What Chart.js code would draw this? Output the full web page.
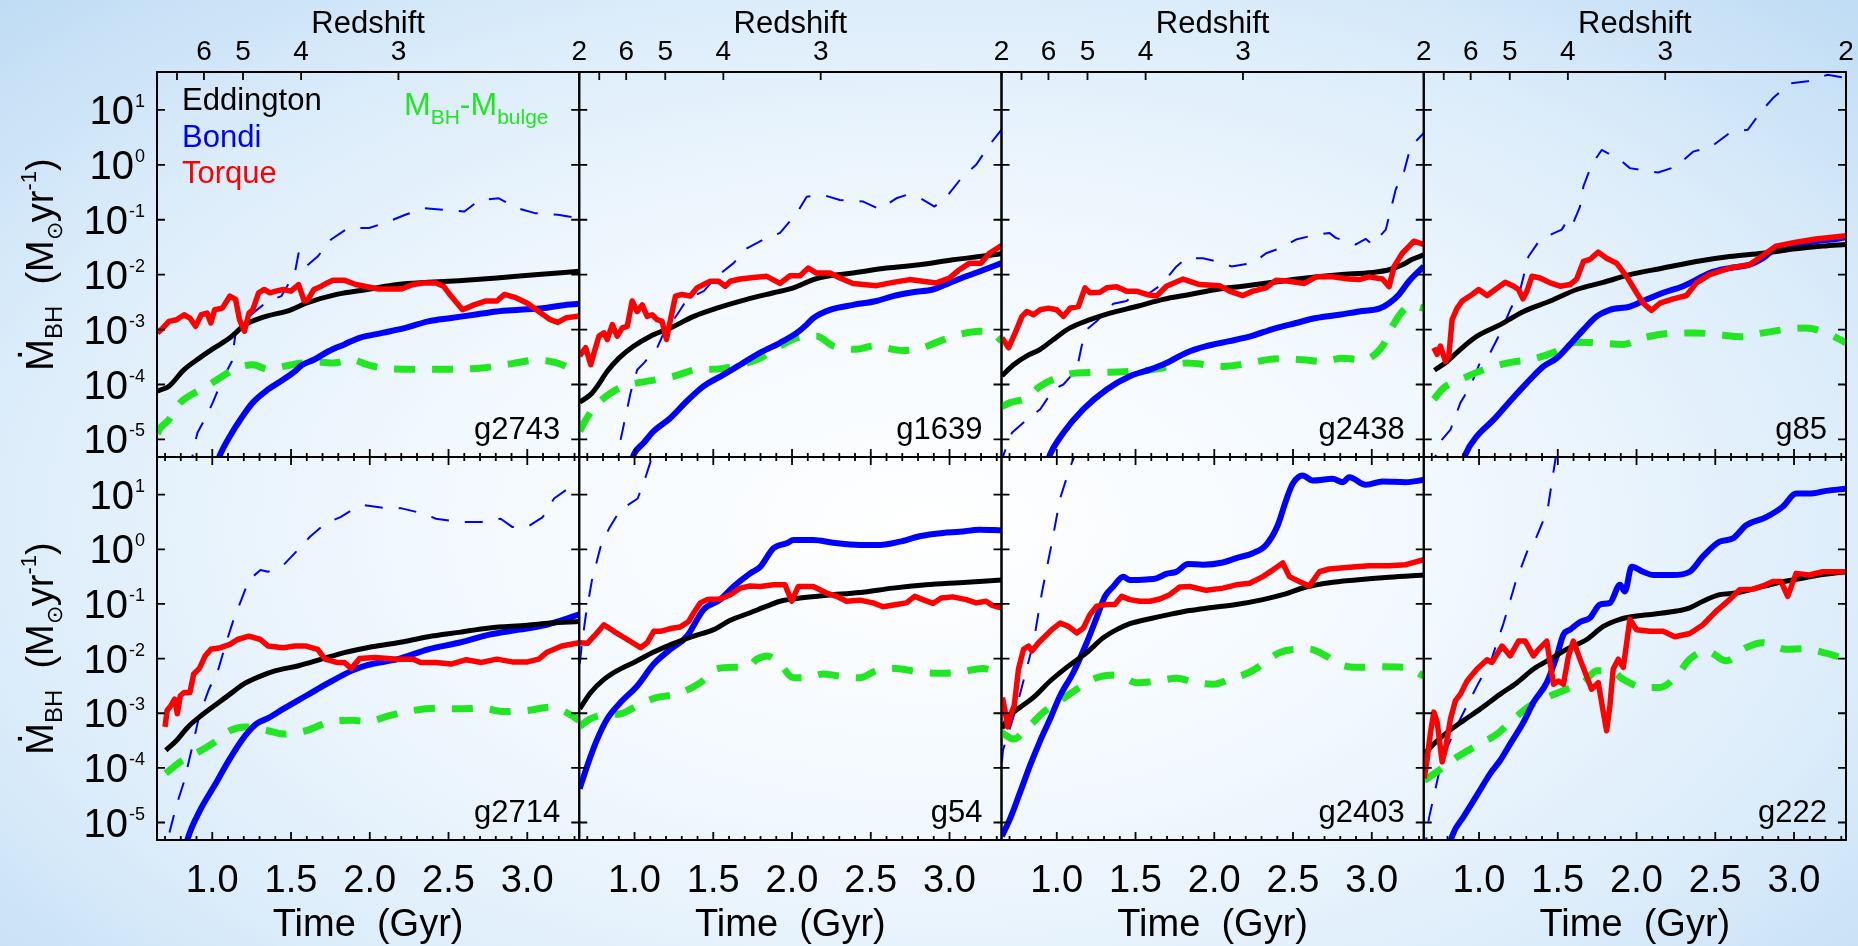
<!DOCTYPE html>
<html>
<head>
<meta charset="utf-8">
<title>BH accretion rates</title>
<script src="https://cdn.jsdelivr.net/npm/chart.js@4.4.1/dist/chart.umd.min.js"></script>
<style>
  html, body { margin: 0; padding: 0; width: 1858px; height: 946px; overflow: hidden; }
  body { background: radial-gradient(ellipse 72% 80% at 50% 56%, #ffffff 0%, #f1f8fe 40%, #dbecfa 72%, #bddbf4 100%); }
  canvas { position: absolute; left: 0; top: 0; }
</style>
</head>
<body>
<script>
// values are [time in Gyr, log10 of accretion rate in Msun/yr]

// ---- g2743 ----
const g2743Eddington = [[0.652,-4.12],[0.725,-4.03],[0.821,-3.73],[0.918,-3.52],[1.015,-3.33],[1.112,-3.15],[1.209,-2.91],[1.306,-2.79],[1.499,-2.64],[1.596,-2.52],[1.79,-2.36],[1.984,-2.27],[2.177,-2.18],[2.371,-2.14],[2.565,-2.11],[2.807,-2.06],[3.049,-2.0],[3.33,-1.94]];
const g2743Bondi = [[1.02,-5.5],[1.051,-5.27],[1.112,-4.94],[1.185,-4.61],[1.257,-4.33],[1.354,-4.09],[1.451,-3.91],[1.524,-3.76],[1.572,-3.64],[1.645,-3.55],[1.741,-3.39],[1.838,-3.27],[1.935,-3.15],[2.08,-3.06],[2.226,-2.97],[2.371,-2.85],[2.516,-2.79],[2.662,-2.73],[2.807,-2.67],[2.952,-2.64],[3.098,-2.61],[3.219,-2.56],[3.33,-2.53]];
const g2743BondiThin = [[0.86,-5.6],[0.882,-5.15],[0.906,-4.88],[0.967,-4.55],[1.003,-4.33],[1.064,-3.91],[1.124,-3.58],[1.148,-3.06],[1.233,-2.76],[1.354,-2.48],[1.439,-2.39],[1.524,-1.97],[1.548,-1.61],[1.596,-1.85],[1.669,-1.67],[1.754,-1.36],[1.863,-1.15],[1.996,-1.15],[2.105,-1.05],[2.226,-0.91],[2.347,-0.79],[2.48,-0.82],[2.601,-0.85],[2.698,-0.64],[2.819,-0.61],[2.94,-0.79],[3.049,-0.88],[3.194,-0.91],[3.33,-0.97]];
const g2743Torque = [[0.652,-3.06],[0.676,-3.0],[0.725,-2.85],[0.773,-2.82],[0.821,-2.73],[0.858,-2.79],[0.894,-2.94],[0.93,-2.73],[0.967,-2.7],[0.991,-2.88],[1.015,-2.64],[1.064,-2.61],[1.112,-2.39],[1.148,-2.45],[1.173,-2.82],[1.204,-3.03],[1.233,-2.7],[1.257,-2.64],[1.294,-2.33],[1.33,-2.27],[1.366,-2.33],[1.403,-2.3],[1.451,-2.27],[1.499,-2.3],[1.548,-2.18],[1.584,-2.48],[1.608,-2.45],[1.645,-2.27],[1.693,-2.21],[1.729,-2.15],[1.766,-2.1],[1.838,-2.1],[1.911,-2.18],[1.984,-2.22],[2.056,-2.26],[2.129,-2.26],[2.202,-2.26],[2.274,-2.18],[2.347,-2.15],[2.42,-2.15],[2.468,-2.21],[2.516,-2.39],[2.589,-2.64],[2.662,-2.55],[2.734,-2.48],[2.807,-2.48],[2.855,-2.36],[2.928,-2.42],[3.001,-2.52],[3.073,-2.67],[3.146,-2.82],[3.194,-2.87],[3.243,-2.79],[3.33,-2.75]];
const g2743Bulge = [[0.652,-4.9],[0.664,-4.82],[0.725,-4.64],[0.797,-4.33],[0.87,-4.18],[0.967,-4.03],[1.064,-3.85],[1.16,-3.7],[1.257,-3.64],[1.354,-3.72],[1.451,-3.67],[1.572,-3.61],[1.669,-3.59],[1.766,-3.61],[1.887,-3.55],[1.984,-3.64],[2.08,-3.7],[2.226,-3.72],[2.371,-3.72],[2.565,-3.72],[2.71,-3.7],[2.904,-3.62],[3.049,-3.56],[3.146,-3.58],[3.243,-3.67],[3.33,-3.85]];

// ---- g1639 ----
const g1639Eddington = [[0.652,-4.32],[0.722,-4.18],[0.764,-4.03],[0.827,-3.76],[0.901,-3.52],[0.996,-3.3],[1.101,-3.12],[1.228,-2.97],[1.376,-2.76],[1.523,-2.61],[1.713,-2.45],[1.882,-2.33],[2.009,-2.24],[2.135,-2.09],[2.22,-2.03],[2.388,-1.97],[2.599,-1.88],[2.81,-1.82],[3.021,-1.73],[3.19,-1.67],[3.33,-1.62]];
const g1639Bondi = [[0.97,-5.5],[0.996,-5.27],[1.059,-5.06],[1.122,-4.85],[1.228,-4.61],[1.333,-4.3],[1.439,-4.03],[1.566,-3.82],[1.671,-3.64],[1.798,-3.42],[1.924,-3.24],[2.03,-3.06],[2.093,-2.91],[2.135,-2.79],[2.241,-2.64],[2.388,-2.55],[2.536,-2.48],[2.641,-2.39],[2.768,-2.32],[2.895,-2.27],[3.0,-2.15],[3.106,-2.03],[3.211,-1.92],[3.33,-1.79]];
const g1639BondiThin = [[0.85,-5.6],[0.89,-5.3],[0.932,-4.73],[0.975,-4.15],[1.017,-3.73],[1.059,-3.61],[1.144,-3.33],[1.186,-3.06],[1.27,-2.73],[1.333,-2.45],[1.439,-2.3],[1.523,-2.03],[1.629,-1.79],[1.713,-1.52],[1.819,-1.36],[1.924,-1.24],[2.03,-0.88],[2.093,-0.58],[2.198,-0.55],[2.304,-0.64],[2.452,-0.67],[2.557,-0.81],[2.662,-0.61],[2.726,-0.55],[2.821,-0.62],[2.905,-0.76],[2.99,-0.55],[3.084,-0.21],[3.169,0.0],[3.253,0.36],[3.33,0.64]];
const g1639Torque = [[0.652,-3.48],[0.69,-3.33],[0.722,-3.64],[0.743,-3.42],[0.774,-3.12],[0.806,-3.06],[0.827,-3.18],[0.859,-2.91],[0.89,-3.12],[0.922,-2.97],[0.954,-2.94],[0.985,-2.48],[1.017,-2.67],[1.049,-2.55],[1.08,-2.76],[1.112,-2.73],[1.144,-2.82],[1.175,-2.85],[1.203,-3.18],[1.228,-2.82],[1.26,-2.39],[1.302,-2.36],[1.355,-2.39],[1.397,-2.24],[1.439,-2.18],[1.481,-2.12],[1.534,-2.12],[1.576,-2.21],[1.608,-2.12],[1.671,-2.08],[1.755,-2.05],[1.84,-2.03],[1.924,-2.16],[1.987,-2.02],[2.051,-2.02],[2.103,-1.88],[2.156,-1.97],[2.241,-1.97],[2.304,-2.06],[2.388,-2.16],[2.536,-2.2],[2.641,-2.14],[2.747,-2.09],[2.831,-2.12],[2.916,-2.15],[3.0,-2.06],[3.063,-1.91],[3.127,-1.79],[3.2,-1.79],[3.253,-1.61],[3.33,-1.47]];
const g1639Bulge = [[0.652,-4.85],[0.679,-4.7],[0.743,-4.42],[0.869,-4.12],[0.975,-4.0],[1.144,-3.91],[1.249,-3.85],[1.397,-3.73],[1.523,-3.72],[1.671,-3.64],[1.798,-3.52],[1.924,-3.3],[2.03,-3.15],[2.156,-3.12],[2.262,-3.3],[2.409,-3.36],[2.515,-3.3],[2.705,-3.38],[2.81,-3.35],[2.937,-3.21],[3.063,-3.09],[3.19,-3.03],[3.274,-3.06],[3.33,-3.21]];

// ---- g2438 ----
const g2438Eddington = [[0.652,-3.84],[0.726,-3.64],[0.81,-3.48],[0.895,-3.36],[0.979,-3.18],[1.084,-2.97],[1.211,-2.82],[1.338,-2.7],[1.506,-2.58],[1.675,-2.45],[1.844,-2.36],[2.013,-2.27],[2.182,-2.21],[2.371,-2.14],[2.582,-2.06],[2.793,-2.0],[3.004,-1.96],[3.11,-1.91],[3.194,-1.82],[3.258,-1.72],[3.33,-1.64]];
const g2438Bondi = [[0.93,-5.5],[0.958,-5.27],[1.042,-4.88],[1.169,-4.45],[1.317,-4.09],[1.464,-3.85],[1.591,-3.73],[1.696,-3.61],[1.823,-3.42],[1.949,-3.3],[2.097,-3.21],[2.245,-3.11],[2.371,-2.99],[2.519,-2.88],[2.646,-2.79],[2.793,-2.73],[2.92,-2.67],[3.046,-2.62],[3.11,-2.52],[3.173,-2.36],[3.236,-2.12],[3.33,-1.85]];
const g2438BondiThin = [[0.652,-5.5],[0.663,-5.27],[0.715,-4.88],[0.81,-4.64],[0.895,-4.45],[0.979,-4.09],[1.042,-4.0],[1.127,-3.73],[1.158,-3.3],[1.19,-3.0],[1.253,-2.85],[1.359,-2.53],[1.443,-2.48],[1.506,-2.33],[1.591,-2.33],[1.665,-2.18],[1.76,-1.85],[1.823,-1.7],[1.928,-1.7],[2.055,-1.79],[2.108,-1.85],[2.245,-1.79],[2.329,-1.61],[2.435,-1.5],[2.519,-1.36],[2.646,-1.27],[2.73,-1.24],[2.772,-1.33],[2.899,-1.45],[2.962,-1.35],[3.004,-1.45],[3.089,-1.18],[3.152,-0.45],[3.205,-0.12],[3.247,0.33],[3.33,0.58]];
const g2438Torque = [[0.652,-3.15],[0.694,-3.33],[0.736,-3.06],[0.779,-2.76],[0.81,-2.67],[0.852,-2.73],[0.895,-2.64],[0.947,-2.61],[0.999,-2.64],[1.042,-2.76],[1.084,-2.61],[1.137,-2.58],[1.179,-2.24],[1.211,-2.33],[1.274,-2.32],[1.317,-2.24],[1.38,-2.22],[1.443,-2.3],[1.506,-2.3],[1.57,-2.36],[1.633,-2.39],[1.696,-2.21],[1.802,-2.08],[1.907,-2.18],[2.034,-2.2],[2.097,-2.3],[2.182,-2.38],[2.245,-2.3],[2.329,-2.24],[2.393,-2.1],[2.477,-2.12],[2.572,-2.16],[2.646,-2.04],[2.751,-2.04],[2.857,-2.08],[2.92,-2.09],[2.983,-2.04],[3.068,-2.08],[3.11,-2.22],[3.142,-1.85],[3.194,-1.61],[3.268,-1.39],[3.33,-1.45]];
const g2438Bulge = [[0.652,-4.4],[0.705,-4.33],[0.81,-4.24],[0.895,-4.03],[0.999,-3.88],[1.127,-3.79],[1.295,-3.78],[1.485,-3.76],[1.633,-3.72],[1.823,-3.61],[2.055,-3.67],[2.224,-3.61],[2.393,-3.53],[2.561,-3.55],[2.688,-3.58],[2.814,-3.52],[2.941,-3.55],[3.068,-3.3],[3.131,-2.94],[3.194,-2.67],[3.258,-2.56],[3.33,-2.61]];

// ---- g85 ----
const g85Eddington = [[0.717,-3.74],[0.798,-3.58],[0.882,-3.36],[0.987,-3.12],[1.135,-2.91],[1.283,-2.67],[1.452,-2.48],[1.62,-2.27],[1.789,-2.14],[1.958,-2.0],[2.169,-1.88],[2.38,-1.76],[2.591,-1.67],[2.802,-1.61],[3.013,-1.53],[3.182,-1.48],[3.33,-1.45]];
const g85Bondi = [[0.88,-5.6],[0.914,-5.27],[0.987,-4.94],[1.093,-4.64],[1.198,-4.3],[1.304,-3.97],[1.409,-3.67],[1.494,-3.52],[1.578,-3.27],[1.663,-3.0],[1.747,-2.76],[1.831,-2.64],[1.958,-2.58],[2.042,-2.48],[2.169,-2.33],[2.295,-2.21],[2.38,-2.09],[2.464,-1.97],[2.591,-1.88],[2.717,-1.82],[2.802,-1.7],[2.886,-1.52],[3.013,-1.45],[3.139,-1.39],[3.266,-1.35],[3.33,-1.32]];
const g85BondiThin = [[0.7,-5.6],[0.734,-5.18],[0.766,-5.0],[0.819,-4.82],[0.882,-4.33],[0.945,-4.03],[1.009,-3.58],[1.061,-3.48],[1.135,-3.06],[1.198,-2.64],[1.262,-2.27],[1.314,-1.67],[1.388,-1.36],[1.525,-1.18],[1.557,-1.03],[1.589,-1.12],[1.641,-0.76],[1.663,-0.39],[1.715,0.0],[1.779,0.27],[1.895,0.09],[1.958,-0.06],[2.021,-0.09],[2.137,-0.14],[2.253,-0.03],[2.359,0.24],[2.475,0.33],[2.591,0.58],[2.707,0.64],[2.791,0.97],[2.865,1.21],[2.971,1.48],[3.087,1.52],[3.213,1.64],[3.33,1.58]];
const g85Torque = [[0.713,-3.33],[0.734,-3.45],[0.755,-3.3],[0.787,-3.58],[0.808,-3.48],[0.829,-2.82],[0.861,-2.61],[0.893,-2.48],[0.924,-2.42],[0.956,-2.36],[0.998,-2.27],[1.051,-2.38],[1.103,-2.27],[1.167,-2.14],[1.22,-2.21],[1.251,-2.27],[1.279,-2.44],[1.304,-2.3],[1.336,-2.03],[1.388,-2.06],[1.452,-2.15],[1.515,-2.21],[1.578,-2.18],[1.62,-2.08],[1.663,-1.76],[1.705,-1.72],[1.757,-1.59],[1.81,-1.7],[1.873,-1.79],[1.937,-2.03],[2.0,-2.33],[2.042,-2.52],[2.095,-2.65],[2.148,-2.52],[2.232,-2.44],[2.317,-2.38],[2.38,-2.15],[2.464,-2.0],[2.591,-1.88],[2.717,-1.82],[2.802,-1.65],[2.886,-1.48],[3.013,-1.41],[3.139,-1.35],[3.33,-1.29]];
const g85Bulge = [[0.713,-4.27],[0.776,-4.06],[0.882,-3.91],[1.03,-3.73],[1.177,-3.61],[1.346,-3.53],[1.473,-3.42],[1.62,-3.23],[1.747,-3.24],[1.916,-3.27],[2.042,-3.15],[2.211,-3.07],[2.38,-3.06],[2.506,-3.09],[2.675,-3.13],[2.802,-3.06],[2.97,-2.99],[3.076,-2.97],[3.203,-3.06],[3.33,-3.24]];

// ---- g2714 ----
const g2714Eddington = [[0.705,-3.68],[0.773,-3.5],[0.846,-3.25],[0.918,-3.07],[1.015,-2.86],[1.112,-2.65],[1.209,-2.45],[1.306,-2.32],[1.403,-2.22],[1.548,-2.13],[1.693,-2.01],[1.838,-1.89],[1.984,-1.8],[2.177,-1.71],[2.371,-1.6],[2.565,-1.52],[2.759,-1.44],[3.001,-1.39],[3.146,-1.35],[3.33,-1.32]];
const g2714Bondi = [[0.82,-5.6],[0.846,-5.28],[0.918,-4.8],[1.015,-4.32],[1.112,-3.83],[1.209,-3.41],[1.282,-3.19],[1.354,-3.09],[1.451,-2.92],[1.596,-2.68],[1.741,-2.44],[1.887,-2.22],[1.984,-2.12],[2.177,-2.01],[2.371,-1.83],[2.565,-1.71],[2.759,-1.56],[2.952,-1.47],[3.122,-1.38],[3.33,-1.19]];
const g2714BondiThin = [[0.7,-5.8],[0.725,-5.22],[0.773,-4.68],[0.821,-4.25],[0.87,-3.65],[0.918,-3.04],[0.979,-2.56],[1.039,-2.19],[1.088,-1.71],[1.136,-1.28],[1.185,-0.92],[1.233,-0.56],[1.306,-0.38],[1.354,-0.41],[1.451,-0.29],[1.524,-0.07],[1.62,0.23],[1.717,0.47],[1.814,0.59],[1.887,0.72],[1.96,0.81],[2.105,0.75],[2.202,0.75],[2.347,0.65],[2.42,0.56],[2.565,0.5],[2.71,0.5],[2.831,0.56],[2.904,0.41],[3.001,0.41],[3.098,0.59],[3.17,0.93],[3.243,1.08],[3.33,1.2]];
const g2714Torque = [[0.7,-3.25],[0.713,-2.95],[0.737,-2.86],[0.761,-2.74],[0.778,-3.01],[0.797,-2.68],[0.821,-2.62],[0.858,-2.62],[0.882,-2.28],[0.918,-2.18],[0.955,-1.95],[0.991,-1.83],[1.052,-1.8],[1.112,-1.74],[1.16,-1.65],[1.233,-1.59],[1.306,-1.65],[1.354,-1.77],[1.451,-1.8],[1.524,-1.77],[1.596,-1.77],[1.669,-1.83],[1.717,-2.01],[1.79,-2.07],[1.838,-2.07],[1.882,-2.18],[1.935,-2.0],[2.032,-1.98],[2.177,-2.01],[2.274,-2.01],[2.323,-2.07],[2.42,-2.07],[2.516,-2.1],[2.613,-2.02],[2.71,-2.07],[2.807,-2.01],[2.904,-2.06],[3.001,-2.06],[3.073,-2.01],[3.122,-1.89],[3.219,-1.77],[3.33,-1.71]];
const g2714Bulge = [[0.705,-4.1],[0.797,-3.89],[0.894,-3.74],[1.015,-3.53],[1.112,-3.32],[1.209,-3.25],[1.354,-3.32],[1.451,-3.38],[1.596,-3.32],[1.741,-3.16],[1.887,-3.13],[1.984,-3.15],[2.129,-3.04],[2.274,-2.95],[2.42,-2.91],[2.565,-2.92],[2.71,-2.91],[2.855,-2.97],[3.001,-2.95],[3.146,-2.89],[3.243,-2.98],[3.33,-3.13]];

// ---- g54 ----
const g54Eddington = [[0.652,-2.92],[0.722,-2.62],[0.806,-2.38],[0.89,-2.22],[0.996,-2.07],[1.122,-1.88],[1.249,-1.72],[1.376,-1.59],[1.502,-1.47],[1.608,-1.3],[1.734,-1.16],[1.84,-1.04],[1.924,-0.95],[2.051,-0.89],[2.22,-0.84],[2.43,-0.79],[2.641,-0.71],[2.852,-0.65],[3.063,-0.61],[3.33,-0.56]];
const g54Bondi = [[0.652,-4.38],[0.701,-3.95],[0.764,-3.47],[0.827,-3.1],[0.912,-2.8],[1.017,-2.5],[1.122,-2.1],[1.228,-1.83],[1.333,-1.59],[1.439,-1.1],[1.544,-0.92],[1.629,-0.68],[1.734,-0.44],[1.798,-0.32],[1.882,0.02],[1.966,0.11],[2.009,0.17],[2.135,0.17],[2.262,0.12],[2.43,0.08],[2.557,0.08],[2.684,0.14],[2.81,0.24],[2.958,0.3],[3.063,0.32],[3.19,0.36],[3.33,0.35]];
const g54BondiThin = [[0.652,-2.1],[0.665,-1.75],[0.69,-1.22],[0.73,-0.56],[0.785,0.05],[0.838,0.38],[0.91,0.72],[1.02,0.93],[1.07,1.32],[1.11,1.68],[1.14,2.0]];
const g54Torque = [[0.652,-1.71],[0.701,-1.72],[0.743,-1.59],[0.806,-1.38],[0.869,-1.5],[0.954,-1.65],[1.038,-1.8],[1.08,-1.71],[1.122,-1.5],[1.165,-1.5],[1.228,-1.45],[1.291,-1.42],[1.344,-1.32],[1.376,-1.16],[1.418,-0.98],[1.46,-0.92],[1.544,-0.91],[1.608,-0.83],[1.671,-0.71],[1.734,-0.67],[1.798,-0.68],[1.882,-0.65],[1.956,-0.65],[1.998,-0.95],[2.04,-0.68],[2.135,-0.68],[2.22,-0.8],[2.283,-0.86],[2.346,-0.95],[2.43,-0.93],[2.515,-0.98],[2.578,-1.05],[2.663,-1.01],[2.726,-0.98],[2.779,-0.86],[2.831,-0.92],[2.895,-0.99],[2.947,-0.89],[3.021,-0.87],[3.106,-0.92],[3.169,-0.98],[3.232,-0.95],[3.274,-1.03],[3.33,-1.07]];
const g54Bulge = [[0.652,-3.24],[0.722,-3.1],[0.806,-3.03],[0.912,-3.01],[1.017,-2.86],[1.144,-2.71],[1.27,-2.65],[1.418,-2.44],[1.523,-2.19],[1.629,-2.16],[1.713,-2.16],[1.777,-2.01],[1.84,-1.95],[1.924,-2.1],[2.009,-2.35],[2.093,-2.35],[2.198,-2.28],[2.304,-2.32],[2.43,-2.35],[2.536,-2.22],[2.663,-2.18],[2.789,-2.24],[2.937,-2.27],[3.063,-2.25],[3.211,-2.18],[3.33,-2.28]];

// ---- g2403 ----
const g2403Eddington = [[0.652,-3.27],[0.705,-3.04],[0.768,-2.89],[0.852,-2.71],[0.958,-2.41],[1.063,-2.16],[1.19,-1.89],[1.295,-1.62],[1.38,-1.47],[1.464,-1.36],[1.591,-1.27],[1.718,-1.19],[1.844,-1.12],[1.971,-1.07],[2.139,-1.01],[2.308,-0.92],[2.435,-0.83],[2.583,-0.69],[2.73,-0.61],[2.899,-0.56],[3.11,-0.51],[3.33,-0.47]];
const g2403Bondi = [[0.652,-5.25],[0.705,-4.92],[0.768,-4.44],[0.831,-3.95],[0.895,-3.5],[0.958,-3.1],[1.021,-2.68],[1.106,-2.25],[1.19,-1.71],[1.253,-1.25],[1.306,-0.86],[1.359,-0.68],[1.422,-0.5],[1.464,-0.56],[1.57,-0.55],[1.633,-0.53],[1.696,-0.45],[1.76,-0.41],[1.833,-0.27],[1.928,-0.28],[2.055,-0.24],[2.139,-0.16],[2.245,-0.07],[2.329,0.08],[2.403,0.44],[2.456,0.9],[2.498,1.2],[2.561,1.35],[2.625,1.26],[2.751,1.29],[2.815,1.23],[2.857,1.32],[2.962,1.18],[3.068,1.24],[3.216,1.23],[3.33,1.27]];
const g2403BondiThin = [[0.652,-3.9],[0.658,-3.68],[0.747,-2.86],[0.852,-1.71],[0.905,-0.8],[0.968,0.11],[1.021,0.93],[1.084,1.5],[1.127,1.81]];
const g2403Torque = [[0.655,-2.71],[0.673,-2.98],[0.688,-3.25],[0.709,-3.01],[0.73,-2.86],[0.757,-2.19],[0.789,-1.83],[0.821,-1.77],[0.842,-1.86],[0.884,-1.71],[0.926,-1.59],[0.968,-1.47],[1.021,-1.35],[1.074,-1.41],[1.127,-1.53],[1.169,-1.44],[1.211,-1.19],[1.253,-1.04],[1.317,-1.01],[1.369,-1.01],[1.412,-0.86],[1.464,-0.92],[1.527,-0.95],[1.591,-0.95],[1.654,-0.91],[1.717,-0.83],[1.781,-0.69],[1.844,-0.68],[1.949,-0.75],[2.055,-0.71],[2.139,-0.65],[2.224,-0.62],[2.308,-0.5],[2.371,-0.38],[2.435,-0.25],[2.477,-0.5],[2.54,-0.59],[2.604,-0.67],[2.667,-0.41],[2.73,-0.36],[2.857,-0.33],[2.983,-0.3],[3.11,-0.3],[3.216,-0.28],[3.33,-0.19]];
const g2403Bulge = [[0.652,-3.36],[0.726,-3.47],[0.81,-3.28],[0.916,-2.98],[1.021,-2.77],[1.127,-2.56],[1.253,-2.35],[1.38,-2.3],[1.506,-2.44],[1.633,-2.41],[1.76,-2.36],[1.886,-2.44],[1.992,-2.47],[2.097,-2.38],[2.224,-2.25],[2.308,-2.1],[2.414,-1.89],[2.519,-1.83],[2.604,-1.83],[2.709,-1.95],[2.793,-2.1],[2.899,-2.16],[3.046,-2.15],[3.216,-2.16],[3.33,-2.32]];

// ---- g222 ----
const g222Eddington = [[0.652,-3.75],[0.713,-3.56],[0.798,-3.35],[0.903,-3.13],[1.009,-2.92],[1.135,-2.65],[1.241,-2.44],[1.346,-2.19],[1.452,-2.01],[1.557,-1.83],[1.684,-1.65],[1.789,-1.41],[1.895,-1.28],[2.0,-1.22],[2.127,-1.18],[2.253,-1.13],[2.338,-1.07],[2.422,-0.95],[2.528,-0.83],[2.633,-0.8],[2.76,-0.71],[2.886,-0.62],[3.013,-0.55],[3.16,-0.47],[3.33,-0.41]];
const g222Bondi = [[0.8,-5.6],[0.829,-5.25],[0.903,-4.89],[0.987,-4.5],[1.072,-4.1],[1.135,-3.86],[1.198,-3.56],[1.283,-3.16],[1.346,-2.8],[1.43,-2.44],[1.494,-1.95],[1.536,-1.56],[1.578,-1.47],[1.641,-1.33],[1.705,-1.25],[1.768,-1.01],[1.831,-0.98],[1.895,-0.65],[1.926,-0.77],[1.969,-0.32],[2.042,-0.41],[2.106,-0.47],[2.232,-0.47],[2.338,-0.41],[2.422,-0.13],[2.528,0.14],[2.612,0.2],[2.696,0.44],[2.823,0.59],[2.928,0.78],[3.013,1.02],[3.097,1.02],[3.203,1.07],[3.33,1.11]];
const g222BondiThin = [[0.652,-5.6],[0.682,-4.92],[0.766,-3.83],[0.871,-3.16],[0.998,-2.44],[1.072,-2.07],[1.156,-1.35],[1.23,-0.62],[1.325,0.11],[1.357,0.17],[1.435,0.72],[1.477,1.5],[1.494,1.81]];
const g222Torque = [[0.652,-4.19],[0.671,-3.83],[0.692,-3.35],[0.713,-2.98],[0.734,-3.16],[0.766,-3.89],[0.787,-3.65],[0.819,-3.1],[0.85,-2.77],[0.882,-2.65],[0.924,-2.41],[0.987,-2.19],[1.051,-2.02],[1.082,-2.07],[1.146,-1.77],[1.198,-1.95],[1.251,-1.68],[1.293,-1.68],[1.346,-1.95],[1.378,-1.83],[1.43,-1.68],[1.473,-2.47],[1.504,-2.41],[1.536,-2.47],[1.568,-1.95],[1.599,-1.68],[1.641,-2.01],[1.715,-2.56],[1.757,-2.44],[1.789,-2.98],[1.81,-3.32],[1.831,-2.86],[1.852,-2.19],[1.884,-2.01],[1.916,-2.16],[1.958,-1.28],[2.0,-1.47],[2.085,-1.5],[2.169,-1.5],[2.243,-1.6],[2.338,-1.54],[2.422,-1.38],[2.506,-1.13],[2.591,-0.92],[2.654,-0.74],[2.739,-0.73],[2.802,-0.67],[2.865,-0.59],[2.918,-0.59],[2.96,-0.86],[3.013,-0.44],[3.097,-0.47],[3.182,-0.41],[3.245,-0.41],[3.33,-0.41]];
const g222Bulge = [[0.652,-4.23],[0.734,-4.07],[0.861,-3.8],[0.987,-3.59],[1.114,-3.38],[1.198,-3.16],[1.325,-2.86],[1.43,-2.71],[1.557,-2.56],[1.663,-2.44],[1.747,-2.22],[1.831,-2.22],[1.916,-2.38],[2.042,-2.53],[2.148,-2.53],[2.253,-2.32],[2.338,-2.01],[2.443,-1.86],[2.57,-2.04],[2.696,-1.8],[2.802,-1.71],[2.95,-1.83],[3.055,-1.82],[3.203,-1.9],[3.33,-2.01]];

// axes
const galaxyNames = ['g2743', 'g1639', 'g2438', 'g85', 'g2714', 'g54', 'g2403', 'g222'];
const decadeExponents = [1, 0, -1, -2, -3, -4, -5];
const timeTickLabels = ['1.0', '1.5', '2.0', '2.5', '3.0'];
const redshiftLabels = ['', '6', '5', '4', '3', '2'];
const redshiftTimes = [0.776, 0.947, 1.195, 1.564, 2.182, 3.33];
const timeMin = 0.649, timeMax = 3.33;
const logMin = -5.32, logMax = 1.69;

const seriesData = {
  g2743: [g2743Torque, g2743Eddington, g2743Bondi, g2743Bulge, g2743BondiThin],
  g1639: [g1639Torque, g1639Eddington, g1639Bondi, g1639Bulge, g1639BondiThin],
  g2438: [g2438Torque, g2438Eddington, g2438Bondi, g2438Bulge, g2438BondiThin],
  g85:   [g85Torque, g85Eddington, g85Bondi, g85Bulge, g85BondiThin],
  g2714: [g2714Torque, g2714Eddington, g2714Bondi, g2714Bulge, g2714BondiThin],
  g54:   [g54Torque, g54Eddington, g54Bondi, g54Bulge, g54BondiThin],
  g2403: [g2403Torque, g2403Eddington, g2403Bondi, g2403Bulge, g2403BondiThin],
  g222:  [g222Torque, g222Eddington, g222Bondi, g222Bulge, g222BondiThin]
};

const RED = '#ff0000', BLUE = '#0000ff', GREEN = '#22e622', BLACK = '#000000';
// first dataset is drawn on top
const seriesStyles = [
  { color: RED,   width: 5.5, dash: [],       smooth: false },
  { color: BLACK, width: 5,   dash: [],       smooth: true },
  { color: BLUE,  width: 6,   dash: [],       smooth: true },
  { color: GREEN, width: 7,   dash: [21, 17], smooth: true },
  { color: BLUE,  width: 2,   dash: [18, 16], smooth: false }
];

// page layout (pixels)
const PAGE_W = 1858, PAGE_H = 946;
const plotLeft = 157, plotRight = 1846;
const rowTop = [72, 457], rowBottom = [457, 840];
const colWidth = (plotRight - plotLeft) / 4;

const FONT = '"Liberation Sans", Arial, Helvetica, sans-serif';
const font = px => px + 'px ' + FONT;

function drawYTitle(ctx, cx, cy) {
  const runs = [
    ['M', 38, 0], ['BH', 24, 9], ['  ', 38, 0], ['(M', 38, 0],
    ['\u2299', 22, 9], ['yr', 38, 0], ['-1', 22, -17], [')', 38, 0]
  ];
  ctx.save();
  ctx.translate(cx, cy);
  ctx.rotate(-Math.PI / 2);
  ctx.textAlign = 'left';
  ctx.textBaseline = 'alphabetic';
  let total = 0;
  runs.forEach(r => { ctx.font = font(r[1]); total += ctx.measureText(r[0]).width; });
  let x = -total / 2;
  runs.forEach((r, i) => {
    ctx.font = font(r[1]);
    const w = ctx.measureText(r[0]).width;
    ctx.fillText(r[0], x, r[2]);
    if (i === 0) {
      // dot over the M
      ctx.textAlign = 'center';
      ctx.fillText('.', x + w / 2, -31);
      ctx.textAlign = 'left';
    }
    x += w;
  });
  ctx.restore();
}

const panelDecor = {
  id: 'panelDecor',
  afterDraw(chart, args, opts) {
    const ctx = chart.ctx;
    const a = chart.chartArea;
    const xs = chart.scales.x, ys = chart.scales.y;
    ctx.save();
    ctx.strokeStyle = BLACK;
    ctx.fillStyle = BLACK;

    // ticks
    ctx.lineWidth = 1.8;
    ctx.beginPath();
    decadeExponents.forEach(e => {
      const py = ys.getPixelForValue(Math.pow(10, e));
      ctx.moveTo(a.left, py); ctx.lineTo(a.left + 8, py);
      ctx.moveTo(a.right, py); ctx.lineTo(a.right - 8, py);
    });
    for (let i = 7; i <= 33; i++) {
      const len = i % 5 === 0 ? 8 : 4;
      const px = xs.getPixelForValue(i / 10);
      ctx.moveTo(px, a.bottom); ctx.lineTo(px, a.bottom - len);
      if (opts.row === 1) { ctx.moveTo(px, a.top); ctx.lineTo(px, a.top + len); }
    }
    if (opts.row === 0) {
      redshiftTimes.forEach(t => {
        const px = xs.getPixelForValue(t);
        ctx.moveTo(px, a.top); ctx.lineTo(px, a.top + 8);
      });
    }
    ctx.stroke();

    // frame
    ctx.lineWidth = 2;
    ctx.strokeRect(a.left, a.top, a.right - a.left, a.bottom - a.top);

    const midX = (a.left + a.right) / 2;
    ctx.textBaseline = 'alphabetic';

    // redshift axis on top row
    if (opts.row === 0) {
      ctx.textAlign = 'center';
      ctx.font = font(28);
      redshiftLabels.forEach((lab, i) => {
        if (lab) ctx.fillText(lab, xs.getPixelForValue(redshiftTimes[i]), 60);
      });
      ctx.font = font(31);
      ctx.fillText('Redshift', midX, 33);
    }

    // time axis on bottom row
    if (opts.row === 1) {
      ctx.textAlign = 'center';
      ctx.font = font(38);
      timeTickLabels.forEach(lab => {
        ctx.fillText(lab, xs.getPixelForValue(parseFloat(lab)), 892);
      });
      ctx.fillText('Time  (Gyr)', midX, 936);
    }

    // y labels on the first column
    if (opts.col === 0) {
      decadeExponents.forEach(e => {
        const py = ys.getPixelForValue(Math.pow(10, e));
        const sup = String(e);
        ctx.textAlign = 'right';
        ctx.font = font(18);
        const supW = ctx.measureText(sup).width;
        ctx.fillText(sup, a.left - 12, py - 3);
        ctx.font = font(40);
        ctx.fillText('10', a.left - 13 - supW, py + 14);
      });
      drawYTitle(ctx, 53, (a.top + a.bottom) / 2);
    }

    // galaxy name
    ctx.textAlign = 'right';
    ctx.font = font(31);
    ctx.fillText(opts.name, a.right - 19, a.bottom - 18);

    // legend in the first panel
    if (opts.row === 0 && opts.col === 0) {
      ctx.textAlign = 'left';
      ctx.font = font(31);
      ctx.fillStyle = BLACK; ctx.fillText('Eddington', 182, 110);
      ctx.fillStyle = BLUE;  ctx.fillText('Bondi', 182, 147);
      ctx.fillStyle = RED;   ctx.fillText('Torque', 182, 183);
      ctx.fillStyle = GREEN;
      let x = 404;
      [['M', 32, 115], ['BH', 21, 124], ['-M', 32, 115], ['bulge', 21, 124]].forEach(r => {
        ctx.font = font(r[1]);
        ctx.fillText(r[0], x, r[2]);
        x += ctx.measureText(r[0]).width;
      });
    }
    ctx.restore();
  }
};

function toPoints(arr) {
  return arr.map(p => ({ x: p[0], y: Math.pow(10, p[1]) }));
}

galaxyNames.forEach((name, idx) => {
  const row = Math.floor(idx / 4), col = idx % 4;
  const canvas = document.createElement('canvas');
  canvas.width = PAGE_W;
  canvas.height = PAGE_H;
  document.body.appendChild(canvas);

  const left = plotLeft + col * colWidth;
  const right = left + colWidth;

  const datasets = seriesData[name].map((arr, i) => {
    const st = seriesStyles[i];
    return {
      data: toPoints(arr),
      borderColor: st.color,
      borderWidth: st.width,
      borderDash: st.dash,
      borderCapStyle: 'butt',
      borderJoinStyle: 'round',
      pointRadius: 0,
      fill: false,
      cubicInterpolationMode: st.smooth ? 'monotone' : 'default',
      tension: 0,
      clip: 0
    };
  });

  new Chart(canvas, {
    type: 'line',
    data: { datasets },
    options: {
      responsive: false,
      animation: false,
      devicePixelRatio: 1,
      events: [],
      layout: {
        autoPadding: false,
        padding: { left: left, right: PAGE_W - right, top: rowTop[row], bottom: PAGE_H - rowBottom[row] }
      },
      plugins: {
        legend: { display: false },
        tooltip: { enabled: false },
        panelDecor: { name: name, row: row, col: col }
      },
      scales: {
        x: { type: 'linear', display: false, min: timeMin, max: timeMax },
        y: { type: 'logarithmic', display: false, min: Math.pow(10, logMin), max: Math.pow(10, logMax) }
      }
    },
    plugins: [panelDecor]
  });
});
</script>
</body>
</html>
